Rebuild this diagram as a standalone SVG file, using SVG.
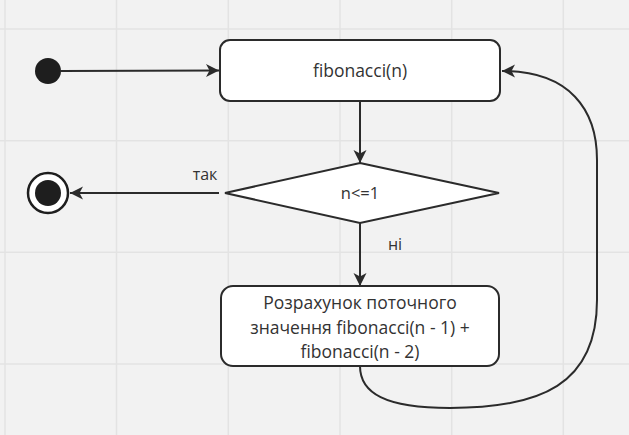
<svg xmlns="http://www.w3.org/2000/svg" width="629" height="435" viewBox="0 0 629 435">
<style>
.grid{stroke:#e3e3e3;stroke-width:1.5}
.node{fill:#ffffff;stroke:#2b2b2b;stroke-width:2}
.edge{fill:none;stroke:#2b2b2b;stroke-width:2}
.lbl{font-family:"Open Sans","Noto Sans",sans-serif;fill:#333333;text-anchor:middle}
</style>
<defs>
<marker id="arr" markerUnits="userSpaceOnUse" markerWidth="16" markerHeight="14" refX="13" refY="6.5" orient="auto">
<path d="M0,0 L13,6.5 L0,13 L3.5,6.5 z" fill="#2b2b2b"/>
</marker>
</defs>
<rect x="0" y="0" width="629" height="435" fill="#f2f2f2"/>
<g id="grid">
<line class="grid" x1="5" y1="0" x2="5" y2="435"/>
<line class="grid" x1="116.5" y1="0" x2="116.5" y2="435"/>
<line class="grid" x1="228.3" y1="0" x2="228.3" y2="435"/>
<line class="grid" x1="340" y1="0" x2="340" y2="435"/>
<line class="grid" x1="451.7" y1="0" x2="451.7" y2="435"/>
<line class="grid" x1="563.3" y1="0" x2="563.3" y2="435"/>
<line class="grid" x1="0" y1="29" x2="629" y2="29"/>
<line class="grid" x1="0" y1="140.7" x2="629" y2="140.7"/>
<line class="grid" x1="0" y1="252.3" x2="629" y2="252.3"/>
<line class="grid" x1="0" y1="364" x2="629" y2="364"/>
</g>
<g id="connectors">
<line class="edge" x1="61" y1="71" x2="219" y2="70.5" marker-end="url(#arr)"/>
<line class="edge" x1="360" y1="101" x2="360" y2="163" marker-end="url(#arr)"/>
<line class="edge" x1="219" y1="193" x2="70" y2="193" marker-end="url(#arr)"/>
<line class="edge" x1="360" y1="223" x2="360" y2="286" marker-end="url(#arr)"/>
<path class="edge" d="M360,366 C360,393 385,408 450,408 C540,408 597,385 597,300 L597,160 C597,110 570,71 502,71" marker-end="url(#arr)"/>
<text class="lbl" x="205" y="180" font-size="16">так</text>
<text class="lbl" x="395" y="250" font-size="16">ні</text>
</g>
<g id="start">
<circle cx="48" cy="71" r="13" fill="#1e1e1e"/>
</g>
<g id="end">
<circle cx="48" cy="193" r="20" fill="#ffffff" stroke="#1e1e1e" stroke-width="2.5"/>
<circle cx="48" cy="193" r="13" fill="#1e1e1e"/>
</g>
<g id="fib">
<rect class="node" x="220" y="40" width="280" height="61" rx="10"/>
<text class="lbl" x="360" y="77" font-size="17.5">fibonacci(n)</text>
</g>
<g id="decision">
<polygon class="node" points="360,163 499,193 360,223 225,193"/>
<text class="lbl" x="360" y="199" font-size="16.5">n&lt;=1</text>
</g>
<g id="calc">
<rect class="node" x="221" y="286" width="278" height="80" rx="12"/>
<text class="lbl" x="360" y="309" font-size="17.5">Розрахунок поточного</text>
<text class="lbl" x="360" y="333.5" font-size="17.5">значення fibonacci(n - 1) +</text>
<text class="lbl" x="360" y="358" font-size="17.5">fibonacci(n - 2)</text>
</g>
</svg>
